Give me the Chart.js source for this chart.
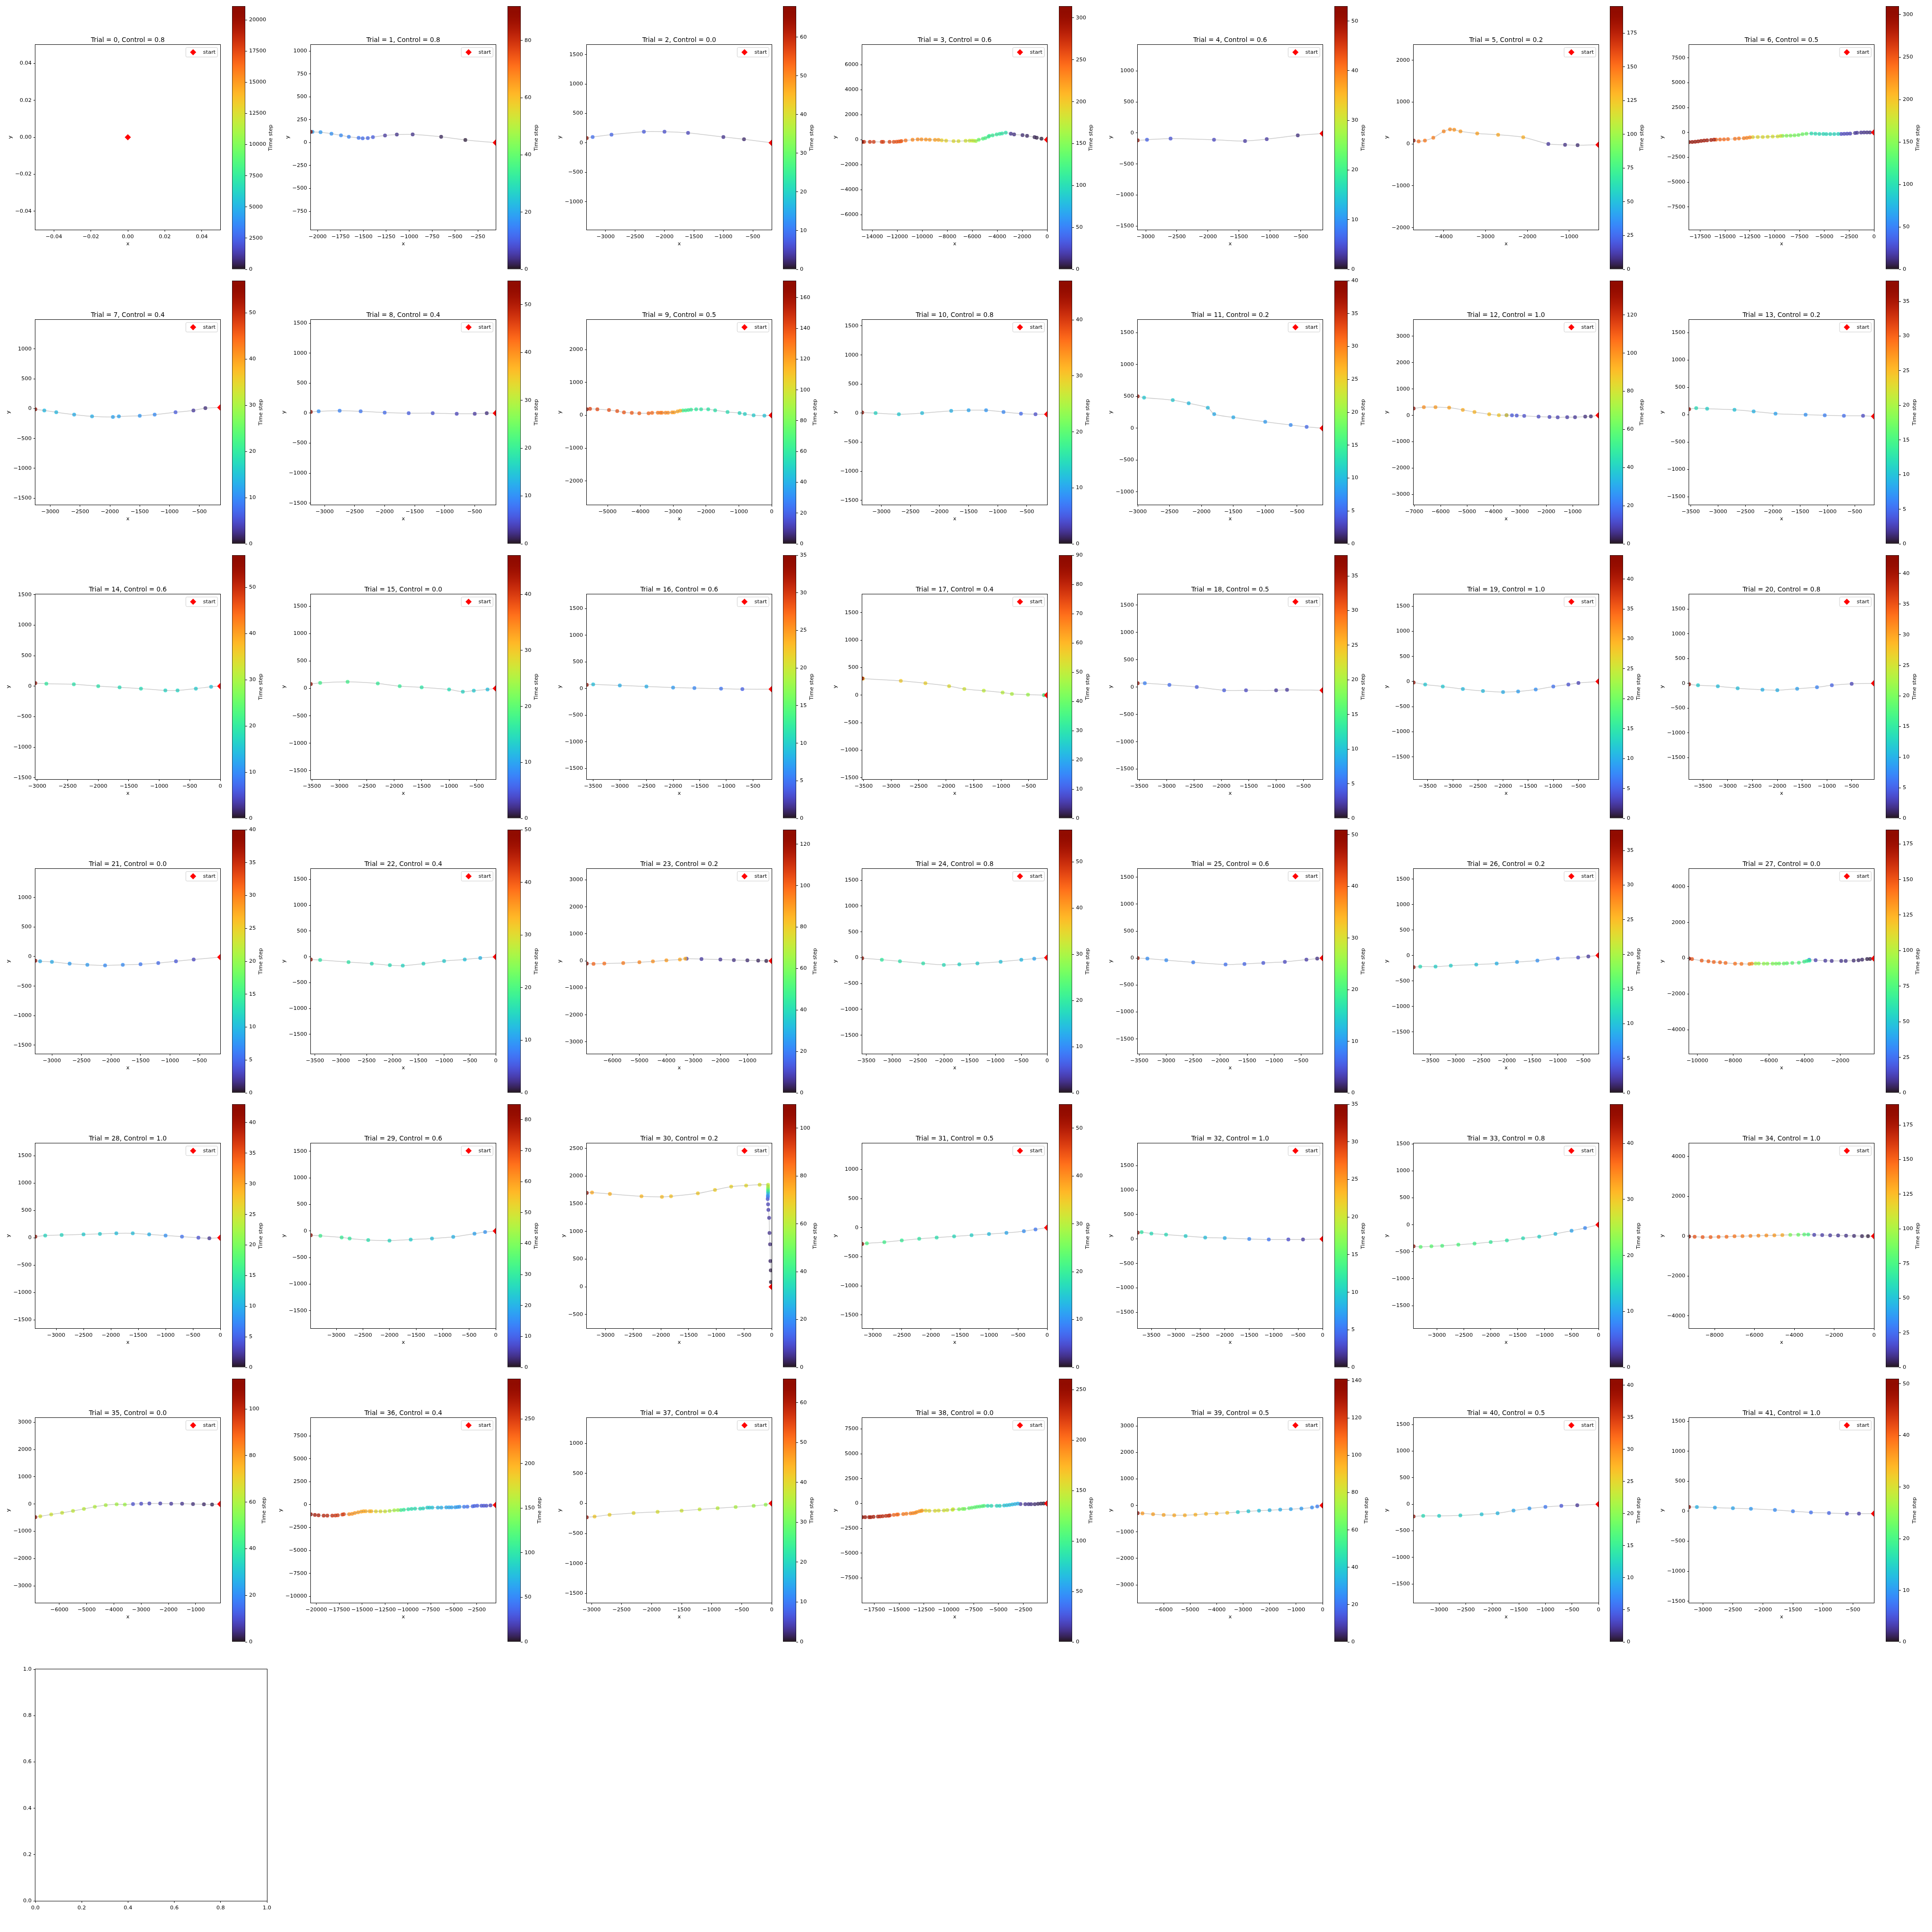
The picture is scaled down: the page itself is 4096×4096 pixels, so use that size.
<!DOCTYPE html>
<html>
<head>
<meta charset="utf-8">
<title>Trials</title>
<script src="https://cdn.jsdelivr.net/npm/chart.js@4.4.1/dist/chart.umd.min.js"></script>
<style>
  html, body { margin: 0; padding: 0; background: #fff; }
  #fig { position: relative; width: 4096px; height: 4096px; overflow: hidden; background: #fff; }
  #fig canvas { position: absolute; }
</style>
</head>
<body>
<div id="fig"></div>
<script>
// ---- data (one entry per trial) ----
const control = [0.8,0.8,0.0,0.6,0.6,0.2,0.5, 0.4,0.4,0.5,0.8,0.2,1.0,0.2, 0.6,0.0,0.6,0.4,0.5,1.0,0.8,
                 0.0,0.4,0.2,0.8,0.6,0.2,0.0, 1.0,0.6,0.2,0.5,1.0,0.8,1.0, 0.0,0.4,0.4,0.0,0.5,0.5,1.0];
const timeMax = [21100,92,68,314,53,195,310, 57,55,171,47,40,138,38, 57,47,35,90,38,44,43,
                 40,50,127,57,51,38,185, 43,85,110,55,35,47,190, 113,295,66,261,141,41,51];
const colorbarStep = [2500,20,10,50,10,25,50, 10,10,20,10,5,20,5, 10,10,5,10,5,5,5,
                      5,10,20,10,10,5,25, 5,10,20,10,5,10,25, 20,50,10,50,20,5,10];
const axisStep = [0.02,250,500,2000,500,1000,2500, 500,500,1000,500,500,1000,500, 500,500,500,500,500,500,500,
                  500,500,1000,500,500,500,2000, 500,500,500,500,500,500,2000, 1000,2500,500,2500,1000,500,500];
const startX = [0,-55,-180,0,-150,-300,0, -150,-150,0,-150,-100,-20,-150, 0,-150,-150,-165,-150,-100,-50,
                -150,0,-100,0,-100,-200,-120, 0,0,0,0,0,0,0, -100,-425,0,-100,0,0,-150];
const startY = [0,0,0,0,-10,-20,0, 20,0,0,-20,0,0,-30, 0,0,-10,0,-60,0,0,
                -10,0,0,0,0,0,-20, 0,0,0,0,0,0,0, 0,-40,0,0,0,0,-40];

// trajectory points, listed along the path from the far end (left) towards the start
const trajX = [
  [],
  [-2074,-2056,-1968,-1849,-1745,-1659,-1552,-1508,-1452,-1396,-1264,-1135,-962,-651,-387],
  [-3320,-3220,-2900,-2350,-2000,-1600,-1000,-650],
  [-14803,-14657,-14190,-13883,-13241,-13124,-12613,-12277,-12058,-11883,-11737,-11664,-11328,-10774,-10365,-10058,-9708,-9401,-8978,-8701,-8438,-8088,-7489,-7095,-6526,-6204,-6015,-5869,-5708,-5474,-5139,-4949,-4701,-4628,-4365,-4044,-3796,-3606,-3314,-2905,-2642,-1971,-1606,-1007,-832,-453],
  [-3130,-2980,-2600,-1900,-1400,-1050,-550],
  [-4720,-4600,-4450,-4250,-4000,-3850,-3750,-3600,-3200,-2700,-2100,-1500,-1100,-800],
  [-18615,-18300,-18000,-17700,-17400,-17100,-16800,-16400,-16100,-15900,-15500,-15100,-14700,-14000,-13600,-13100,-12800,-12500,-12200,-11700,-11200,-10700,-10200,-9700,-9400,-9200,-8800,-8400,-8000,-7600,-7200,-6800,-6300,-5900,-5500,-5100,-4800,-4400,-4000,-3600,-3300,-3000,-2700,-2400,-1900,-1700,-1300,-1000,-700,-400],
  [-3250,-3100,-2900,-2600,-2300,-1950,-1850,-1500,-1250,-900,-600,-400],
  [-3230,-3100,-2750,-2400,-2000,-1600,-1200,-800,-500,-300],
  [-5633,-5533,-5311,-4956,-4706,-4500,-4261,-4033,-3750,-3644,-3467,-3389,-3344,-3233,-3156,-3033,-2972,-2867,-2789,-2706,-2622,-2539,-2456,-2300,-2150,-1933,-1722,-1344,-978,-817,-550,-222],
  [-3330,-3100,-2700,-2300,-1800,-1500,-1200,-900,-600,-350],
  [-3000,-2900,-2450,-2200,-1900,-1800,-1500,-1000,-600,-350],
  [-7021,-6634,-6193,-5676,-5159,-4717,-4159,-3793,-3503,-3503,-3297,-3117,-2834,-2290,-1876,-1566,-1207,-910,-524,-310],
  [-3530,-3400,-3200,-2700,-2350,-1950,-1400,-1050,-700,-350],
  [-3030,-2850,-2400,-2000,-1650,-1300,-900,-700,-400,-150],
  [-3520,-3350,-2850,-2300,-1900,-1500,-1000,-750,-550,-300],
  [-3620,-3500,-3000,-2500,-2000,-1600,-1100,-700],
  [-3525,-3510,-2824,-2377,-1946,-1670,-1316,-974,-805,-513,-221,-221],
  [-3530,-3400,-2950,-2450,-1950,-1550,-1000,-800],
  [-3780,-3550,-3200,-2800,-2400,-2000,-1700,-1350,-1000,-700,-500],
  [-3780,-3600,-3200,-2800,-2300,-2000,-1600,-1200,-900,-500],
  [-3280,-3200,-3000,-2700,-2400,-2100,-1800,-1500,-1200,-900,-600],
  [-3580,-3400,-2850,-2400,-2050,-1800,-1400,-1000,-600,-300],
  [-6950,-6700,-6300,-5600,-5000,-4500,-4000,-3500,-3300,-3250,-2700,-2000,-1500,-1000,-600,-300],
  [-3580,-3200,-2850,-2400,-2000,-1700,-1350,-900,-500,-250],
  [-3530,-3350,-3000,-2500,-1900,-1550,-1200,-800,-400,-200],
  [-3830,-3700,-3400,-3100,-2600,-2200,-1800,-1400,-1000,-600,-400],
  [-10464,-10300,-9758,-9381,-9081,-8733,-8424,-7892,-7534,-7089,-6954,-6741,-6567,-6286,-6083,-5793,-5600,-5426,-5164,-4990,-4690,-4323,-4023,-3888,-3791,-3723,-3740,-3385,-2843,-2485,-1954,-1702,-1257,-986,-783,-503,-338],
  [-3380,-3200,-2900,-2500,-2200,-1900,-1600,-1300,-1000,-700,-400,-200],
  [-3480,-3300,-2900,-2750,-2400,-2000,-1600,-1200,-800,-400,-200],
  [-3339,-3244,-2921,-2351,-1982,-1818,-1333,-1024,-731,-461,-217,-65,-65,-65,-65,-65,-65,-65,-68,-68,-72,-65,-59,-46,-39,-29,-23,-16,-13],
  [-3180,-3100,-2800,-2500,-2200,-1900,-1600,-1300,-1000,-700,-400,-200],
  [-3780,-3700,-3500,-3200,-2800,-2400,-2000,-1500,-1100,-700,-400],
  [-3430,-3300,-3100,-2900,-2600,-2300,-2000,-1700,-1400,-1100,-800,-500,-250],
  [-9280,-9000,-8600,-8200,-7800,-7400,-7000,-6600,-6200,-5800,-5400,-5000,-4600,-4200,-3800,-3500,-3300,-3000,-2600,-2200,-1800,-1400,-1000,-600,-300],
  [-6880,-6700,-6300,-5900,-5500,-5100,-4700,-4300,-3900,-3600,-3300,-3000,-2700,-2300,-1900,-1500,-1100,-700,-400],
  [-20600,-20160,-19760,-19200,-18800,-18260,-17920,-17660,-17160,-17000,-16420,-16100,-15800,-15440,-15100,-14850,-14610,-14190,-14000,-13500,-13000,-12500,-12000,-11500,-11100,-10770,-10450,-9970,-9610,-9230,-8670,-8350,-7890,-7650,-7350,-6740,-6360,-5820,-5520,-5240,-4840,-4600,-4380,-3880,-3520,-2940,-2740,-2440,-1980,-1720,-1440,-1000],
  [-3080,-2950,-2700,-2300,-1900,-1500,-1200,-900,-600,-300,-100],
  [-18712,-18418,-18014,-17849,-17573,-17133,-16913,-16655,-16325,-16068,-15939,-15536,-15224,-15113,-14581,-14269,-13847,-13608,-13388,-13222,-12965,-12782,-12690,-12323,-11956,-11387,-11020,-10487,-10157,-9624,-9569,-8963,-8596,-8413,-7954,-7678,-7384,-7146,-6889,-6632,-6448,-6081,-5714,-5163,-4870,-4428,-4153,-3878,-3602,-3327,-3051,-2776,-2299,-1968,-1711,-1344,-1014,-720,-445],
  [-6980,-6800,-6400,-6000,-5600,-5200,-4800,-4400,-4000,-3600,-3200,-2800,-2400,-2000,-1600,-1200,-800,-400,-200],
  [-3480,-3300,-3000,-2600,-2200,-1900,-1600,-1300,-1000,-700,-400],
  [-3230,-3100,-2800,-2500,-2200,-1800,-1500,-1200,-900,-600,-400]
];
const trajY = [
  [],
  [118,118,114,98,80,64,52,48,50,60,78,88,90,64,30],
  [80,100,140,190,190,170,100,60],
  [-175,-175,-175,-175,-175,-175,-175,-175,-161,-146,-131,-102,-58,0,29,29,15,0,-15,-15,-44,-73,-117,-117,-88,-73,-73,-88,-102,0,88,131,248,307,350,423,467,496,569,482,423,365,307,204,161,88],
  [-120,-110,-90,-110,-130,-100,-40],
  [80,60,80,150,300,350,340,300,250,220,160,0,-20,-30],
  [-974,-960,-940,-900,-860,-820,-790,-760,-730,-720,-710,-700,-680,-640,-610,-580,-550,-500,-470,-465,-460,-440,-420,-400,-360,-340,-330,-320,-300,-260,-180,-130,-110,-130,-150,-160,-170,-170,-165,-160,-150,-140,-130,-120,-60,-40,-10,0,0,0],
  [-10,-30,-60,-100,-130,-140,-130,-120,-100,-60,-30,10],
  [20,30,40,30,10,0,0,-10,-10,0],
  [184,196,184,162,128,89,73,61,61,73,78,78,78,78,78,89,89,117,140,145,151,162,173,184,184,184,151,100,67,39,0,-11],
  [10,0,-20,0,40,50,50,20,-10,-20],
  [500,480,440,390,320,220,170,100,50,20],
  [262,310,310,290,207,124,41,7,7,7,0,-7,-21,-48,-62,-76,-69,-69,-48,-41],
  [100,120,110,90,60,20,0,-10,-20,-20],
  [50,40,30,0,-20,-40,-70,-70,-40,-10],
  [80,100,120,90,40,20,-20,-60,-40,-20],
  [70,80,60,40,20,10,0,-10],
  [306,300,260,217,164,112,82,49,23,10,0,0],
  [70,70,40,0,-60,-60,-60,-50],
  [-20,-60,-100,-150,-190,-210,-200,-160,-100,-60,-30],
  [-20,-40,-60,-100,-130,-140,-110,-80,-40,-10],
  [-70,-80,-90,-120,-140,-150,-140,-130,-110,-80,-50],
  [-50,-60,-100,-130,-160,-170,-130,-80,-50,-20],
  [-100,-110,-100,-80,-50,-20,20,50,80,80,70,50,30,20,10,0],
  [-10,-40,-70,-110,-140,-130,-110,-80,-40,-20],
  [0,-10,-40,-80,-120,-110,-90,-70,-30,-10],
  [-230,-220,-220,-200,-180,-160,-130,-100,-60,-40,-20],
  [-20,-50,-132,-173,-213,-234,-264,-305,-315,-325,-305,-295,-295,-305,-305,-305,-305,-295,-295,-284,-264,-254,-193,-162,-132,-132,-90,-112,-142,-152,-152,-152,-132,-112,-81,-50,-40],
  [20,40,50,60,70,80,80,60,40,20,0,-10],
  [-80,-90,-120,-140,-170,-180,-160,-140,-110,-50,-20],
  [1697,1703,1677,1634,1624,1634,1687,1750,1809,1829,1842,1842,1816,1793,1766,1743,1717,1690,1651,1624,1585,1489,1390,1245,972,768,465,297,86],
  [-280,-270,-250,-220,-190,-170,-150,-130,-110,-90,-60,-30],
  [130,140,110,90,60,30,20,0,-10,-10,-10],
  [-400,-410,-400,-390,-370,-350,-320,-290,-250,-220,-170,-110,-60],
  [-20,-30,-50,-50,-40,-30,-10,0,10,20,30,40,50,60,70,80,80,60,50,40,30,20,10,0,0],
  [-480,-450,-380,-320,-250,-180,-100,-40,-10,-20,0,10,20,20,10,10,0,-10,-20],
  [-1060,-1120,-1160,-1200,-1200,-1200,-1180,-1160,-1080,-1040,-1040,-1000,-920,-840,-760,-720,-720,-720,-720,-740,-740,-740,-680,-620,-600,-600,-560,-500,-460,-440,-440,-420,-320,-320,-320,-320,-320,-300,-300,-300,-280,-260,-240,-240,-220,-180,-140,-120,-120,-120,-120,-80],
  [-230,-220,-190,-160,-140,-120,-100,-80,-60,-40,-20],
  [-1379,-1379,-1379,-1379,-1342,-1324,-1305,-1287,-1250,-1232,-1195,-1158,-1121,-1103,-1066,-1029,-993,-974,-938,-864,-790,-754,-717,-717,-735,-735,-717,-698,-662,-625,-588,-588,-551,-551,-478,-423,-386,-331,-312,-276,-239,-239,-239,-239,-239,-202,-184,-147,-92,-55,-18,-55,-74,-74,-74,-74,-37,-18,0],
  [-290,-300,-330,-360,-370,-370,-350,-320,-300,-280,-250,-220,-200,-180,-160,-140,-120,-80,-40],
  [-230,-220,-220,-210,-190,-170,-120,-80,-50,-30,-20],
  [70,70,60,50,40,20,0,-20,-30,-40,-40]
];
const trajT = [
  [],
  [92,19,18,17,16,15,13,12,11,10,5,4,4,2,1],
  [68,9,8,7,6,5,3,2],
  [314,272,270,268,266,265,262,258,256,254,252,250,240,232,230,228,226,224,220,218,195,192,188,186,182,178,176,172,160,140,128,124,118,116,114,112,110,108,104,14,12,10,8,6,5,3],
  [53,6,5,4,3,3,2],
  [195,150,148,146,144,142,140,138,136,134,132,10,8,6],
  [310,298,296,294,292,290,288,286,284,245,243,241,239,237,235,233,231,229,190,188,186,184,182,180,178,150,148,146,144,142,140,138,100,99,98,97,96,95,94,93,24,23,22,21,16,15,14,13,12,11],
  [57,14,14,13,13,12,12,11,10,6,3,2],
  [55,10,9,8,7,6,5,4,3,2],
  [171,143,142,140,139,138,137,136,134,133,130,129,128,126,125,122,120,118,116,65,64,63,62,60,59,58,57,55,52,50,48,45],
  [47,14,13,12,11,10,9,8,6,4],
  [40,11,11,10,10,9,9,8,7,5],
  [138,100,98,96,94,92,90,88,85,15,14,13,12,11,10,9,8,7,5,4],
  [38,12,11,10,9,8,7,6,5,3],
  [57,20,19,19,18,18,17,17,16,15],
  [47,18,18,17,17,16,15,14,13,12],
  [35,9,8,8,7,6,5,4],
  [90,58,57,56,54,52,50,49,48,46,40,12],
  [38,6,5,4,4,3,2,2],
  [44,12,12,11,11,10,9,8,6,4,3],
  [43,12,11,11,10,10,9,7,5,3],
  [40,9,9,8,8,7,7,6,5,4,3],
  [50,17,17,16,16,15,15,14,13,12],
  [127,100,98,96,94,92,90,88,86,8,7,6,5,4,3,2],
  [57,20,19,19,18,17,16,15,14,12],
  [51,9,9,8,7,6,5,4,3,2],
  [38,12,11,11,10,9,8,7,5,3,2],
  [185,150,148,147,146,145,144,142,141,138,135,95,93,92,90,88,86,84,82,80,78,76,70,68,65,62,25,12,10,9,8,8,6,5,5,3,2],
  [43,13,13,12,12,11,11,10,8,6,4,2],
  [85,32,31,30,28,26,24,22,20,18,16],
  [110,75,74,73,72,71,70,69,68,67,66,62,58,52,45,40,33,25,20,15,10,8,7,6,5,4,3,2,1],
  [55,22,21,20,19,18,17,16,14,12,10,8],
  [35,12,11,11,10,9,8,6,5,3,2],
  [47,20,20,19,19,18,17,16,15,14,12,10,8],
  [190,155,153,151,149,147,145,143,141,139,137,135,130,90,85,80,75,12,11,10,9,8,6,4,2],
  [113,66,65,64,63,62,61,60,59,58,10,9,8,7,6,5,4,3,2],
  [295,270,268,265,262,258,255,252,250,248,215,212,210,207,205,203,200,198,196,180,175,170,160,155,150,110,105,100,97,95,92,90,85,80,78,70,68,65,63,62,60,58,57,45,40,35,33,32,28,27,26,20],
  [66,42,41,40,39,38,37,36,35,34,33],
  [261,245,243,242,240,236,234,232,230,228,226,205,203,201,198,196,194,192,190,188,186,184,182,160,158,156,154,152,150,148,146,125,122,120,115,113,111,110,108,107,105,85,83,80,78,70,68,66,64,62,60,15,12,11,10,8,6,4,2],
  [141,100,99,98,97,96,95,94,93,92,40,38,36,34,32,30,28,25,22],
  [41,13,12,12,11,10,9,8,6,4,2],
  [51,12,11,11,10,9,8,7,6,4,3]
];

// ---- sizes (reference pixels scaled by S) ----
const S = 0.819;
const FONT = "'DejaVu Sans', sans-serif";
const TICK = 13.89 * S;
const TITLE = 16.67 * S;
const A = Math.round(479 * S);
const PADL = 90, PADT = 30, PADR = 32, PADB = 50;
const CB_W = Math.round(34.4 * S), CB_H = Math.round(681.4 * S), CB_PAD = 12, CB_R = 110;

// turbo colormap (polynomial fit)
function turbo(v) {
  const t = Math.max(0, Math.min(1, v));
  const r = 0.13572138 + t * (4.61539260 + t * (-42.66032258 + t * (132.13108234 + t * (-152.94239396 + t * 59.28637943))));
  const g = 0.09140261 + t * (2.19418839 + t * (4.84296658 + t * (-14.18503333 + t * (4.27729857 + t * 2.82956604))));
  const b = 0.10667330 + t * (12.64194608 + t * (-60.58204836 + t * (110.36276771 + t * (-89.90310912 + t * 27.34824973))));
  return [r, g, b].map(c => Math.round(255 * Math.max(0, Math.min(1, c))));
}
function rgba(v, a) {
  const [r, g, b] = turbo(v);
  return `rgba(${r},${g},${b},${a})`;
}

function tickValues(min, max, step) {
  const out = [];
  for (let k = Math.ceil(min / step - 1e-9); k * step <= max + step * 1e-9; k++) {
    out.push(+(k * step).toFixed(6));
  }
  return out;
}
function fmt(dec) {
  return v => (v < -1e-9 ? '\u2212' : '') + Math.abs(v).toFixed(dec);
}

function axisScale(min, max, step, dec, fit) {
  return {
    type: 'linear',
    min: min,
    max: max,
    afterFit: fit,
    afterBuildTicks: s => { s.ticks = tickValues(min, max, step).map(v => ({ value: v })); },
    ticks: {
      autoSkip: false, maxRotation: 0, minRotation: 0, padding: 4,
      color: '#000', font: { family: FONT, size: TICK }, callback: fmt(dec)
    },
    grid: { drawOnChartArea: false, drawTicks: true, tickLength: 4, tickWidth: 1, tickColor: '#000' },
    border: { display: false }
  };
}

// frame, title, axis labels and legend of one subplot
const decor = {
  id: 'decor',
  afterDatasetsDraw(chart, args, o) {
    const { ctx, chartArea: a } = chart;
    ctx.save();
    ctx.strokeStyle = '#000';
    ctx.lineWidth = 1;
    ctx.strokeRect(a.left - 0.5, a.top - 0.5, a.right - a.left + 1, a.bottom - a.top + 1);
    ctx.fillStyle = '#000';
    const cx = (a.left + a.right) / 2;
    ctx.textAlign = 'center';
    ctx.textBaseline = 'alphabetic';
    if (o.title) {
      ctx.font = `${TITLE}px ${FONT}`;
      ctx.fillText(o.title, cx, a.top - 6.2);
    }
    ctx.font = `${TICK}px ${FONT}`;
    if (o.xLabel) ctx.fillText(o.xLabel, cx, a.bottom + 33.3);
    if (o.yLabel) {
      const w = Math.max(...chart.scales.y.ticks.map(t => ctx.measureText(t.label).width));
      ctx.save();
      ctx.translate(a.left - 15.2 - w, (a.top + a.bottom) / 2);
      ctx.rotate(-Math.PI / 2);
      ctx.fillText(o.yLabel, 0, 0);
      ctx.restore();
    }
    if (o.legend) {
      const lw = 82 * S, lh = 24.6 * S;
      const lx = a.right - 7.1 * S - lw, ly = a.top + 7 * S;
      ctx.beginPath();
      ctx.roundRect(lx, ly, lw, lh, 2.8 * S);
      ctx.fillStyle = 'rgba(255,255,255,0.8)';
      ctx.fill();
      ctx.strokeStyle = '#cccccc';
      ctx.lineWidth = 1;
      ctx.stroke();
      const mx = lx + 18.8 * S, my = ly + lh / 2, mr = 8 * S;
      ctx.beginPath();
      ctx.moveTo(mx - mr, my); ctx.lineTo(mx, my - mr); ctx.lineTo(mx + mr, my); ctx.lineTo(mx, my + mr);
      ctx.closePath();
      ctx.fillStyle = '#ff0000';
      ctx.fill();
      ctx.fillStyle = '#000';
      ctx.textAlign = 'left';
      ctx.textBaseline = 'middle';
      ctx.fillText(o.legend, lx + 44.6 * S, my);
    }
    ctx.restore();
  }
};

// rotated colorbar label
const cbLabel = {
  id: 'cbLabel',
  afterDraw(chart, args, o) {
    const { ctx, chartArea: a } = chart;
    ctx.save();
    ctx.font = `${TICK}px ${FONT}`;
    const w = Math.max(...chart.scales.y.ticks.map(t => ctx.measureText(t.label).width));
    ctx.translate(a.right + 21.2 + w, (a.top + a.bottom) / 2);
    ctx.rotate(-Math.PI / 2);
    ctx.fillStyle = '#000';
    ctx.textAlign = 'center';
    ctx.textBaseline = 'alphabetic';
    ctx.fillText(o.text, 0, 0);
    ctx.restore();
  }
};

const fig = document.getElementById('fig');
function addCanvas(left, top, w, h) {
  const c = document.createElement('canvas');
  c.width = w; c.height = h;
  c.style.left = left + 'px'; c.style.top = top + 'px';
  c.style.width = w + 'px'; c.style.height = h + 'px';
  fig.appendChild(c);
  return c;
}

const baseOptions = {
  responsive: false, animation: false, events: [], devicePixelRatio: 1
};

function drawTrial(i) {
  const r = Math.floor(i / 7), c = i % 7;
  const left = Math.round((91.6 + 713.5 * c) * S);
  const top = Math.round((116.6 + 710.7 * r) * S);

  const xs = trajX[i].concat(startX[i]);
  const ys = trajY[i].concat(startY[i]);
  let xmin = Math.min(...xs), xmax = Math.max(...xs);
  let half = (xmax - xmin) / 2;
  const ymid = (Math.min(...ys) + Math.max(...ys)) / 2;
  if (half === 0) { xmin = -0.05; xmax = 0.05; half = 0.05; }
  const step = axisStep[i];
  const dec = step < 1 ? Math.round(-Math.log10(step) + 0.3) : 0;

  const path = xs.map((x, k) => ({ x: x, y: ys[k] }));
  const pts = trajX[i].map((x, k) => ({ x: x, y: trajY[i][k], t: trajT[i][k] }))
                      .sort((p, q) => p.t - q.t);

  const canvas = addCanvas(left - PADL, top - PADT, PADL + A + PADR, PADT + A + PADB);
  new Chart(canvas, {
    type: 'scatter',
    data: {
      datasets: [
        { data: pts, pointRadius: 4, pointBorderWidth: 0,
          pointBackgroundColor: pts.map(p => rgba(p.t / timeMax[i], 0.8)), order: 3, clip: 0 },
        { data: path, showLine: true, pointRadius: 0, borderColor: 'rgba(128,128,128,0.4)',
          borderWidth: 1.5, tension: 0.3, order: 2, clip: 0 },
        { data: [{ x: startX[i], y: startY[i] }], pointStyle: 'rectRot', pointRadius: 6.6,
          pointBackgroundColor: '#ff0000', pointBorderWidth: 0, order: 1, clip: 0 }
      ]
    },
    options: Object.assign({}, baseOptions, {
      layout: { padding: { left: 0, top: PADT, right: PADR, bottom: 0 }, autoPadding: false },
      plugins: {
        legend: { display: false }, tooltip: { enabled: false },
        decor: { title: `Trial = ${i}, Control = ${control[i].toFixed(1)}`, xLabel: 'x', yLabel: 'y', legend: 'start' }
      },
      scales: {
        x: axisScale(xmin, xmax, step, dec, s => { s.height = PADB; }),
        y: axisScale(ymid - half, ymid + half, step, dec, s => { s.width = PADL; })
      }
    }),
    plugins: [decor]
  });
}

function colorbarFill(context) {
  const area = context.chart.chartArea;
  if (!area) return 'rgba(0,0,0,0)';
  const g = context.chart.ctx.createLinearGradient(0, area.bottom, 0, area.top);
  for (let k = 0; k <= 48; k++) {
    const [r, gg, b] = turbo(k / 48);
    g.addColorStop(k / 48, `rgb(${r},${gg},${b})`);
  }
  return g;
}

function drawColorbar(i) {
  const r = Math.floor(i / 7), c = i % 7;
  const left = Math.round((600.3 + 713.5 * c) * S);
  const top = Math.round((15.6 + 710.7 * r) * S);
  const canvas = addCanvas(left, top - CB_PAD, CB_W + CB_R, CB_H + 2 * CB_PAD);
  const yScale = axisScale(0, timeMax[i], colorbarStep[i], 0, s => { s.width = CB_R; });
  yScale.position = 'right';
  new Chart(canvas, {
    type: 'bar',
    data: {
      labels: [''],
      datasets: [{ data: [timeMax[i]], backgroundColor: colorbarFill, borderColor: '#000', borderWidth: 1,
                   borderSkipped: false, barPercentage: 1, categoryPercentage: 1 }]
    },
    options: Object.assign({}, baseOptions, {
      layout: { padding: { left: 0, top: CB_PAD, right: 0, bottom: CB_PAD }, autoPadding: false },
      plugins: { legend: { display: false }, tooltip: { enabled: false }, cbLabel: { text: 'Time step' } },
      scales: { x: { display: false }, y: yScale }
    }),
    plugins: [cbLabel]
  });
}

function drawEmpty() {
  const left = Math.round(91.6 * S), top = Math.round(4320.9 * S), size = Math.round(599 * S);
  const canvas = addCanvas(left - PADL, top - PADT, PADL + size + PADR, PADT + size + PADB);
  new Chart(canvas, {
    type: 'scatter',
    data: { datasets: [] },
    options: Object.assign({}, baseOptions, {
      layout: { padding: { left: 0, top: PADT, right: PADR, bottom: 0 }, autoPadding: false },
      plugins: { legend: { display: false }, tooltip: { enabled: false }, decor: {} },
      scales: {
        x: axisScale(0, 1, 0.2, 1, s => { s.height = PADB; }),
        y: axisScale(0, 1, 0.2, 1, s => { s.width = PADL; })
      }
    }),
    plugins: [decor]
  });
}

for (let i = 0; i < control.length; i++) {
  drawTrial(i);
  drawColorbar(i);
}
drawEmpty();
</script>
</body>
</html>
